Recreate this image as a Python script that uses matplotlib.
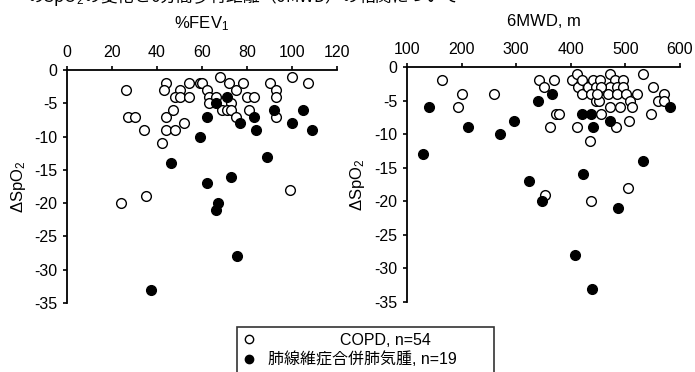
import matplotlib
matplotlib.use('Agg')
import matplotlib.pyplot as plt
from matplotlib.lines import Line2D

plt.rcParams['font.family'] = ['Liberation Sans', 'Noto Sans CJK JP', 'DejaVu Sans']
plt.rcParams['mathtext.fontset'] = 'custom'
plt.rcParams['mathtext.rm'] = 'Liberation Sans'
plt.rcParams['mathtext.it'] = 'Liberation Sans'
plt.rcParams['axes.unicode_minus'] = False

# %FEV1 vs dSpO2
fev_copd_x = [26, 44, 43, 54, 50, 48, 50, 54, 59, 60, 62, 63, 63, 66, 68, 72, 75, 78, 80, 83,
              73, 69, 71, 73, 75, 81, 90, 93, 93, 93, 100, 107, 27, 30, 34, 44, 47, 44, 48, 52,
              42, 24, 35, 99]
fev_copd_y = [-3, -2, -3, -2, -3, -4, -4, -4, -2, -2, -3, -4, -5, -4, -1, -2, -3, -2, -4, -4,
              -5, -6, -6, -6, -7, -6, -2, -3, -4, -7, -1, -2, -7, -7, -9, -7, -6, -9, -9, -8,
              -11, -20, -19, -18]
fev_cpfe_x = [71, 66, 62, 77, 83, 84, 59, 92, 100, 105, 109, 89, 46, 62, 73, 67, 66, 75.5, 37.5]
fev_cpfe_y = [-4, -5, -7, -8, -7, -9, -10, -6, -8, -6, -9, -13, -14, -17, -16, -20, -21, -28, -33]

# 6MWD vs dSpO2
mwd_copd_x = [164, 201, 193, 260, 341, 350, 370, 373, 379, 361, 402, 412, 414, 420, 420, 432,
              440, 447, 454, 437, 447, 451, 471, 481, 496, 471, 485, 496, 469, 484, 502, 521,
              508, 472, 490, 512, 455, 533, 551, 571, 560, 571, 547, 411, 482, 507, 435, 352,
              437, 505, 455, 448]
mwd_copd_y = [-2, -4, -6, -4, -2, -3, -2, -7, -7, -9, -2, -1, -3, -2, -4, -3,
              -2, -3, -2, -4, -5, -5, -1, -2, -2, -3, -3, -3, -4, -4, -4, -4,
              -5, -6, -6, -6, -7, -1, -3, -4, -5, -5, -7, -9, -9, -8, -11, -19,
              -20, -18, -3, -4]
mwd_cpfe_x = [140, 211, 271, 296, 340, 366, 421, 437, 441, 471, 582, 129, 533, 323, 422, 347,
              487, 407, 438]
mwd_cpfe_y = [-6, -9, -10, -8, -5, -4, -7, -7, -9, -8, -6, -13, -14, -17, -16, -20,
              -21, -28, -33]

y_ticks = [0, -5, -10, -15, -20, -25, -30, -35]
fev_ticks = [0, 20, 40, 60, 80, 100, 120]
mwd_ticks = [100, 200, 300, 400, 500, 600]

W, H = 695, 372
fig = plt.figure(figsize=(W / 100, H / 100), dpi=100)

ax1 = fig.add_axes([67 / W, 1 - 303 / H, 270 / W, 233 / H])
ax2 = fig.add_axes([407 / W, 1 - 302 / H, 273 / W, 235 / H])

ms = 7
for ax, cx, cy, fx, fy, xt, xl, title in [
        (ax1, fev_copd_x, fev_copd_y, fev_cpfe_x, fev_cpfe_y, fev_ticks, (0, 120), '%FEV$_1$'),
        (ax2, mwd_copd_x, mwd_copd_y, mwd_cpfe_x, mwd_cpfe_y, mwd_ticks, (100, 600), '6MWD, m')]:
    ax.plot(cx, cy, 'o', mfc='white', mec='black', mew=1.0, ms=ms, ls='none', clip_on=False)
    ax.plot(fx, fy, 'o', mfc='black', mec='black', mew=1.0, ms=ms, ls='none', clip_on=False)
    ax.set_xlim(*xl)
    ax.set_ylim(-35, 0)
    ax.set_xticks(xt)
    ax.set_yticks(y_ticks)
    ax.xaxis.tick_top()
    ax.spines['right'].set_visible(False)
    ax.spines['bottom'].set_visible(False)
    ax.spines['top'].set_linewidth(1.3)
    ax.spines['left'].set_linewidth(1.3)
    ax.tick_params(axis='both', direction='out', length=3, width=1.2, labelsize=11.5)
    ax.tick_params(axis='x', pad=4)
    ax.tick_params(axis='y', pad=4)
    ax.set_ylabel(r'$\Delta$SpO$_2$', fontsize=12)
    ax.xaxis.set_label_position('top')
    ax.set_xlabel(title, fontsize=12, labelpad=12)

ax1.yaxis.set_label_coords(-0.145, 0.5)
ax2.yaxis.set_label_coords(-0.145, 0.5)

# clipped caption line at the top of the scan
fig.text(27 / W, 1 + 4 / H, 'のSpO$_2$の変化と6分間歩行距離（6MWD）の相関について',
         fontsize=12, ha='left', va='center', family=['Noto Sans CJK JP', 'DejaVu Sans'])

handles = [Line2D([], [], marker='o', ls='none', mfc='white', mec='black', mew=1.0, ms=6),
           Line2D([], [], marker='o', ls='none', mfc='black', mec='black', mew=1.0, ms=6)]
labels = ['                COPD, n=54', '肺線維症合併肺気腫, n=19       ']
leg = fig.legend(handles, labels, loc='upper left', bbox_to_anchor=(237 / W, 1 - 327 / H),
                 frameon=True, fancybox=False, edgecolor='black', borderaxespad=0,
                 handlelength=0.8, handletextpad=0.8, borderpad=0.35,
                 labelspacing=0.25, prop={'family': ['Liberation Sans', 'Noto Sans CJK JP'], 'size': 11.5})
leg.get_frame().set_linewidth(1.2)

fig.savefig('out.png', dpi=100)
